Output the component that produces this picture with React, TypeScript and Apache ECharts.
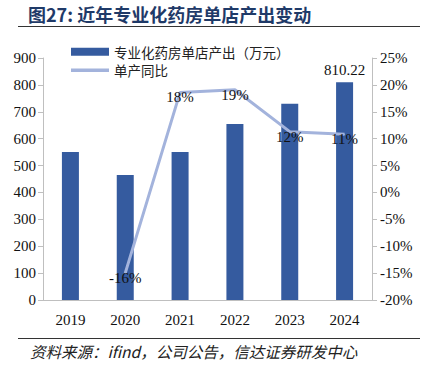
import React, { useEffect, useRef } from "react";
import * as echarts from "echarts";

const years = ["2019", "2020", "2021", "2022", "2023", "2024"];
const output = [550, 465, 550, 655, 730, 810.22];
const growth = [null, -15, 18.6, 19.1, 11.3, 10.8];
const growthLabels = ["", "-16%", "18%", "19%", "12%", "11%"];

const serif = "'Liberation Serif', 'Times New Roman', serif";
const cjk = "'Noto Sans CJK SC', sans-serif";

export default function App() {
  const ref = useRef<HTMLDivElement>(null);
  useEffect(() => {
    document.body.style.margin = "0";
    const chart = echarts.init(ref.current!, null, { renderer: "svg" });
    chart.setOption({
      animation: false,
      backgroundColor: "#ffffff",
      grid: { left: 43, right: 58, top: 58, bottom: 66 },
      legend: {
        orient: "vertical",
        left: 66,
        top: 40,
        itemWidth: 38,
        itemHeight: 8,
        itemGap: 5,
        symbolKeepAspect: true,
        textStyle: { fontFamily: cjk, fontSize: 13.5, color: "#222" },
        data: [
          { name: "专业化药房单店产出（万元）", icon: "rect" },
          {
            name: "单产同比",
            icon: "path://M0,0 L38,0 L38,3.5 L0,3.5 Z",
            itemStyle: { color: "#a3b3dc" },
          },
        ],
      },
      xAxis: {
        type: "category",
        data: years,
        axisLine: { lineStyle: { color: "#bfbfbf", width: 1 } },
        axisTick: { show: false },
        axisLabel: { fontFamily: serif, fontSize: 15, color: "#111", margin: 12 },
      },
      yAxis: [
        {
          type: "value",
          min: 0,
          max: 900,
          interval: 100,
          splitLine: { show: false },
          axisLine: { show: true, lineStyle: { color: "#bfbfbf" } },
          axisTick: { show: true, length: 5, lineStyle: { color: "#bfbfbf" } },
          axisLabel: { fontFamily: serif, fontSize: 15, color: "#111", margin: 7 },
        },
        {
          type: "value",
          min: -20,
          max: 25,
          interval: 5,
          position: "right",
          splitLine: { show: false },
          axisLine: { show: true, lineStyle: { color: "#bfbfbf" } },
          axisTick: { show: true, length: 5, lineStyle: { color: "#bfbfbf" } },
          axisLabel: {
            fontFamily: serif,
            fontSize: 15,
            color: "#111",
            margin: 8,
            formatter: "{value}%",
          },
        },
      ],
      series: [
        {
          name: "专业化药房单店产出（万元）",
          type: "bar",
          data: output.map((v, i) =>
            i === output.length - 1
              ? {
                  value: v,
                  label: {
                    show: true,
                    position: "top",
                    distance: 5,
                    fontFamily: serif,
                    fontSize: 15,
                    color: "#111",
                    formatter: "810.22",
                  },
                }
              : v
          ),
          barWidth: "31%",
          itemStyle: { color: "#355b9f" },
        },
        {
          name: "单产同比",
          type: "line",
          yAxisIndex: 1,
          data: growth,
          symbol: "circle",
          symbolSize: 1,
          showSymbol: true,
          connectNulls: false,
          lineStyle: { color: "#a3b3dc", width: 3 },
          itemStyle: { color: "#a3b3dc" },
          label: {
            show: true,
            position: "inside",
            offset: [0, 5],
            fontFamily: serif,
            fontSize: 15,
            color: "#111",
            formatter: (p: any) => growthLabels[p.dataIndex],
          },
        },
      ],
      graphic: [
        {
          type: "text",
          left: 28,
          top: 5,
          style: {
            text: "图27: 近年专业化药房单店产出变动",
            font: `bold 18px ${cjk}`,
            fill: "#1f3a68",
          },
        },
        {
          type: "line",
          shape: { x1: 18, y1: 26.5, x2: 420, y2: 26.5 },
          style: { stroke: "#333", lineWidth: 1 },
        },
        {
          type: "line",
          shape: { x1: 18, y1: 338.5, x2: 420, y2: 338.5 },
          style: { stroke: "#333", lineWidth: 1 },
        },
        {
          type: "text",
          left: 30,
          top: 343,
          style: {
            text: "资料来源：ifind，公司公告，信达证券研发中心",
            font: `italic 15.5px ${cjk}`,
            fill: "#222",
          },
        },
      ],
    });
    return () => chart.dispose();
  }, []);
  return <div ref={ref} style={{ width: 430, height: 366 }} />;
}
